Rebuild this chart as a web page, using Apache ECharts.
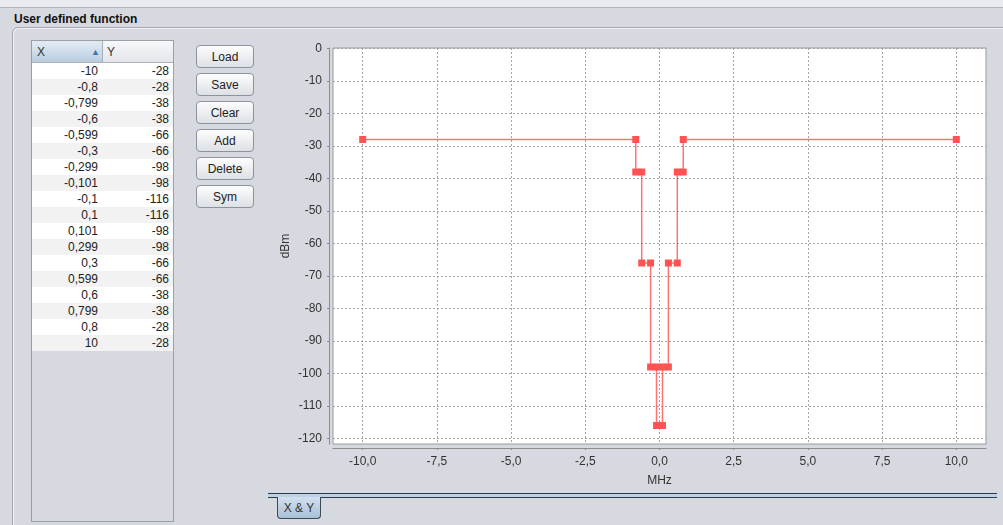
<!DOCTYPE html>
<html>
<head>
<meta charset="utf-8">
<script src="https://cdn.jsdelivr.net/npm/echarts@6/dist/echarts.min.js"></script>
<style>
  html, body { margin: 0; padding: 0; }
  body { width: 1003px; height: 525px; background: #d6d9df; position: relative; overflow: hidden;
         font-family: "Liberation Sans", Arial, sans-serif; font-size: 12px; color: #222; }
  .abs { position: absolute; }
  #topstrip { left: 0; top: 0; width: 1003px; height: 7px; background: #e9ebee; border-bottom: 1px solid #b0b3ba; }
  #title { left: 14px; top: 11px; font-weight: bold; font-size: 12px; color: #111; line-height: 16px; }
  #frame { left: 12px; top: 27px; width: 1010px; height: 520px; border: 1px solid #a4a7ae; border-radius: 6px;
           box-shadow: inset 1px 1px 0 #eef0f3; }
  #table { left: 31px; top: 40px; width: 141px; height: 480px; border: 1px solid #9aa0a8; background: #d6d9df; }
  .hdr { position: absolute; top: 0; height: 22px; line-height: 23px; border-bottom: 1px solid #a7afba; box-sizing: border-box; color: #333; }
  #hx { left: 0; width: 71px; background: linear-gradient(#e3ecf4, #b9cde0); border-right: 1px solid #a7afba; padding-left: 5px; box-sizing: border-box; }
  #hy { left: 71px; width: 70px; background: linear-gradient(#f7f8fa, #e2e5ea); padding-left: 4px; box-sizing: border-box; }
  #arrow { position: absolute; left: 59px; top: 0; color: #3e74b3; font-size: 9px; }
  .row { position: absolute; left: 0; width: 141px; height: 16px; line-height: 17px; }
  .cx { position: absolute; left: 0; width: 66px; text-align: right; }
  .cy { position: absolute; left: 71px; width: 66px; text-align: right; }
  .btn { position: absolute; left: 196px; width: 58px; height: 23px; line-height: 22px; text-align: center; box-sizing: border-box;
         border: 1px solid #8c939c; border-radius: 4px; background: linear-gradient(#fdfdfd, #dde0e5); color: #222; }
  #tabline { left: 268px; top: 493px; width: 729px; height: 3px; background: #bcd2e8; border-top: 1px solid #2e3b48; border-bottom: 1px solid #2e3b48; }
  #tab { left: 277px; top: 497px; width: 42px; height: 21px; line-height: 22px; text-align: center;
         border: 1px solid #3b4856; border-top: none; border-radius: 0 0 4px 4px; background: linear-gradient(#d2e0ee, #a9c0d6); color: #333; }
  #chart { left: 0; top: 0; width: 1003px; height: 525px; }
</style>
</head>
<body>
<div id="topstrip" class="abs"></div>
<div id="title" class="abs">User defined function</div>
<div id="frame" class="abs"></div>
<div id="table" class="abs">
  <div id="hx" class="hdr">X<span id="arrow">&#9650;</span></div>
  <div id="hy" class="hdr">Y</div>
</div>
<div id="buttons"></div>
<div id="tabline" class="abs"></div>
<div id="tab" class="abs">X &amp; Y</div>
<div id="chart" class="abs"></div>
<script>
// ---- data ----
const xValues = [-10, -0.8, -0.799, -0.6, -0.599, -0.3, -0.299, -0.101, -0.1, 0.1, 0.101, 0.299, 0.3, 0.599, 0.6, 0.799, 0.8, 10];
const yValues = [-28, -28, -38, -38, -66, -66, -98, -98, -116, -116, -98, -98, -66, -66, -38, -38, -28, -28];
const buttonLabels = ['Load', 'Save', 'Clear', 'Add', 'Delete', 'Sym'];
const xAxisName = 'MHz';
const yAxisName = 'dBm';

const fmtComma = v => String(v).replace('.', ',');

// ---- table ----
const table = document.getElementById('table');
xValues.forEach((x, i) => {
  const r = document.createElement('div');
  r.className = 'row';
  r.style.top = (22 + i * 16) + 'px';
  r.style.background = (i % 2 === 0) ? '#ffffff' : '#f2f2f2';
  r.innerHTML = '<span class="cx">' + fmtComma(x) + '</span><span class="cy">' + yValues[i] + '</span>';
  table.appendChild(r);
});
// ---- buttons ----
const bdiv = document.getElementById('buttons');
buttonLabels.forEach((b, i) => {
  const d = document.createElement('div');
  d.className = 'btn';
  d.style.top = (45 + i * 28) + 'px';
  d.textContent = b;
  bdiv.appendChild(d);
});

// ---- chart ----
const chart = echarts.init(document.getElementById('chart'), null, { renderer: 'canvas' });
const PL = 333, PT = 48, PW = 653, PH = 396;
const XMIN = -11, XMAX = 11;
const pxPerX = PW / (XMAX - XMIN);
const labelFont = { color: '#333', fontSize: 12, fontFamily: 'Liberation Sans, Arial, sans-serif' };
const split = { show: true, lineStyle: { color: '#a3a3a3', type: [2, 2], width: 1 } };

chart.setOption({
  animation: false,
  grid: [
    { left: PL, top: PT, width: PW, height: PH, show: true, backgroundColor: '#ffffff', borderColor: '#9a9a9a', borderWidth: 1 },
    { left: PL, top: PT + 0.5, width: PW, height: 390 },
    { left: PL + pxPerX, top: PT, width: PW - 2 * pxPerX, height: PH }
  ],
  xAxis: [
    { gridIndex: 0, type: 'value', min: XMIN, max: XMAX, position: 'bottom', offset: 4,
      axisLine: { show: true, onZero: false, lineStyle: { color: '#8c8c8c', width: 1 } },
      axisTick: { show: false }, axisLabel: { show: false }, splitLine: { show: false },
      name: xAxisName, nameLocation: 'middle', nameGap: 27,
      nameTextStyle: labelFont },
    { gridIndex: 1, type: 'value', min: XMIN, max: XMAX, show: false },
    { gridIndex: 2, type: 'value', min: -10, max: 10, interval: 2.5, position: 'bottom', offset: 4,
      axisLine: { show: false, onZero: false },
      axisTick: { show: true, length: 2, lineStyle: { color: '#8c8c8c' } },
      axisLabel: Object.assign({ margin: 8, formatter: v => v.toFixed(1).replace('.', ',') }, labelFont),
      splitLine: split }
  ],
  yAxis: [
    { gridIndex: 0, type: 'value', min: -122, max: 0, position: 'left', offset: 4,
      axisLine: { show: true, onZero: false, lineStyle: { color: '#8c8c8c', width: 1 } },
      axisTick: { show: false }, axisLabel: { show: false }, splitLine: { show: false },
      name: yAxisName, nameLocation: 'middle', nameGap: 37, nameRotate: 90,
      nameTextStyle: labelFont },
    { gridIndex: 1, type: 'value', min: -120, max: 0, interval: 10, position: 'left', offset: 4,
      axisLine: { show: false, onZero: false },
      axisTick: { show: true, length: 2, lineStyle: { color: '#8c8c8c' } },
      axisLabel: Object.assign({ margin: 7, verticalAlign: 'middle', padding: [2, 0, 0, 0] }, labelFont),
      splitLine: split },
    { gridIndex: 2, type: 'value', min: -122, max: 0, show: false }
  ],
  series: [
    { type: 'line', xAxisIndex: 1, yAxisIndex: 1,
      data: xValues.map((x, i) => [x, yValues[i]]),
      symbol: 'rect', symbolSize: 7, showAllSymbol: true,
      itemStyle: { color: '#ff5252', opacity: 1 },
      lineStyle: { color: 'rgba(255,80,80,0.8)', width: 1.5 },
      clip: false }
  ]
});
</script>
</body>
</html>
